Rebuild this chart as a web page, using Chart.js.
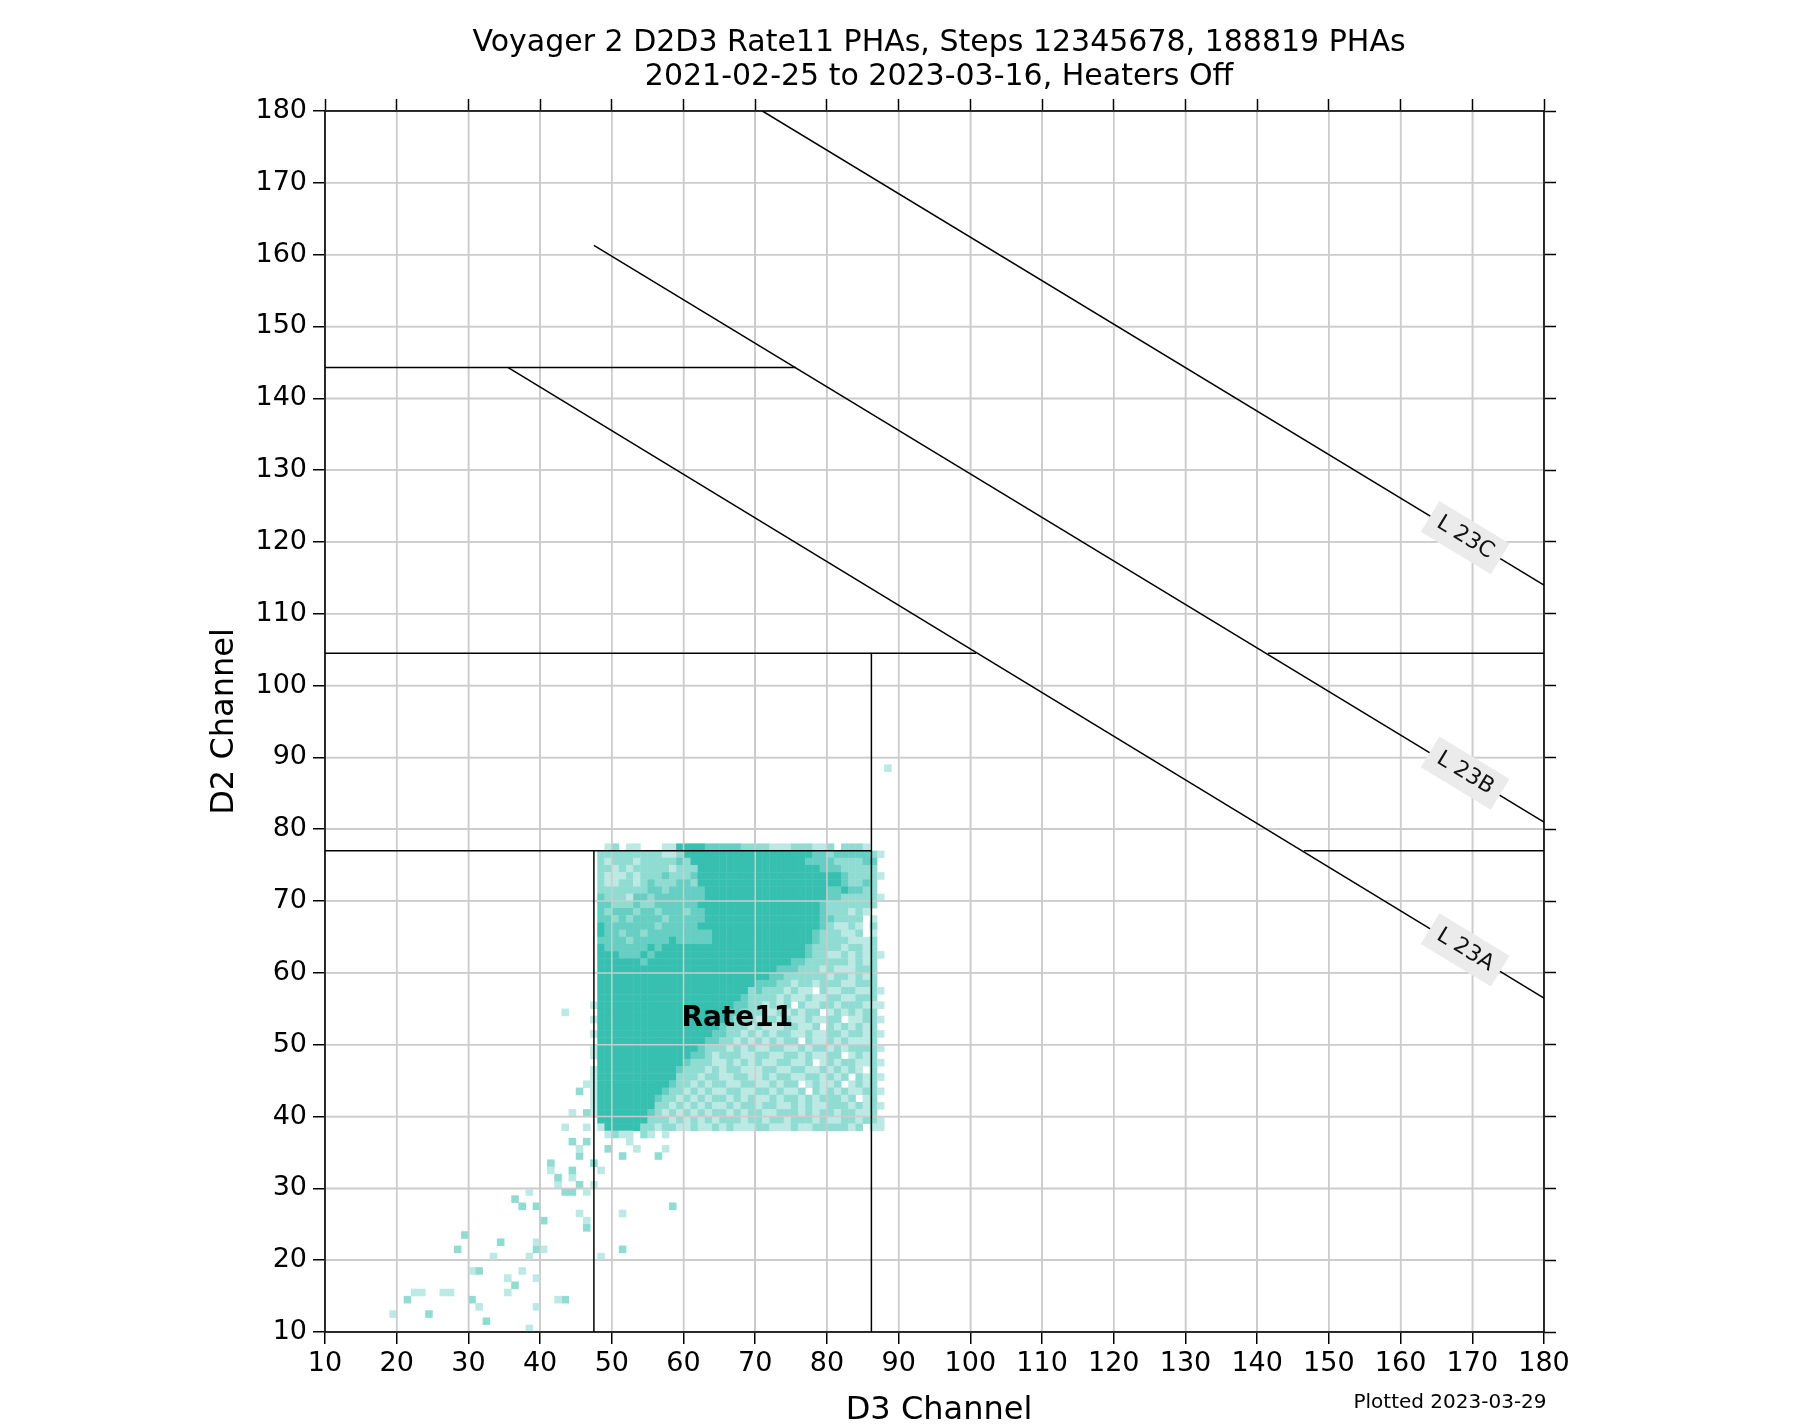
<!DOCTYPE html>
<html><head><meta charset="utf-8">
<script src="https://cdn.jsdelivr.net/npm/chart.js@4/dist/chart.umd.min.js"></script>
<style>html,body{margin:0;padding:0;background:#fff}#wrap{width:1820px;height:1424px}</style>
</head><body><div id="wrap"><canvas id="c" width="1820" height="1424"></canvas></div>
<script>
const xTicks = [10,20,30,40,50,60,70,80,90,100,110,120,130,140,150,160,170,180];
const yTicks = [10,20,30,40,50,60,70,80,90,100,110,120,130,140,150,160,170,180];
// heatmap rows, d2 from 77 down to 38; chars = level for d3 = 47,48,...,87
const gridTopD2 = 77, gridFirstD3 = 47;
const gridRows = [
"0"+"01201100011"+"44443333322"+"22111222112"+"022210"+"0",
"0"+"22222222211"+"24444444444"+"44444444332"+"333332"+"1",
"0"+"21222122222"+"32444444444"+"44444443333"+"222233"+"0",
"0"+"22121222221"+"22244444444"+"44444444433"+"322222"+"0",
"0"+"21112122232"+"22344444444"+"44444444444"+"432222"+"1",
"0"+"21122123222"+"33244444444"+"44444444444"+"432232"+"0",
"0"+"22222223323"+"33334444444"+"44444444443"+"343322"+"0",
"0"+"32221332333"+"33334444444"+"44444444443"+"322222"+"1",
"0"+"33222322333"+"33344444444"+"44444444432"+"222222"+"0",
"0"+"32333233233"+"32334444444"+"44444444432"+"221210"+"0",
"0"+"33232333323"+"33334444444"+"44444444433"+"222201"+"0",
"0"+"43333333233"+"33344444444"+"44444444432"+"112102"+"0",
"0"+"43323323333"+"33333444444"+"44444444322"+"211201"+"0",
"0"+"33332333334"+"33333444444"+"44444444322"+"221112"+"0",
"0"+"43333334344"+"44444444444"+"44444443222"+"212212"+"0",
"0"+"44433343444"+"44444444444"+"44444443221"+"121212"+"1",
"0"+"44444434444"+"44444444444"+"44444332222"+"221212"+"0",
"0"+"44444444444"+"44444444444"+"44433322212"+"111222"+"0",
"0"+"44444444444"+"44444444444"+"44332222221"+"221212"+"0",
"0"+"44444444444"+"44444444444"+"33322122122"+"211222"+"0",
"0"+"44444444444"+"44444444442"+"32221211021"+"122112"+"1",
"0"+"44444444444"+"44444444432"+"22212112112"+"211222"+"0",
"1"+"44444444444"+"44444444332"+"21212021122"+"122211"+"1",
"0"+"44444444444"+"44444443322"+"21121212201"+"212122"+"0",
"1"+"44444444444"+"44444443222"+"12212112112"+"201122"+"1",
"0"+"44444444444"+"44444432221"+"21112211202"+"121212"+"0",
"1"+"44444444444"+"44444332212"+"12122112112"+"212212"+"1",
"0"+"44444444444"+"44443322121"+"21212202112"+"121112"+"0",
"1"+"44444444444"+"44432221212"+"11221121221"+"212222"+"1",
"1"+"44444444444"+"44332122211"+"22112212112"+"201212"+"0",
"0"+"44444444444"+"43222112121"+"21122112012"+"122112"+"1",
"1"+"44444444444"+"32221212211"+"12211221121"+"212102"+"0",
"1"+"44444444444"+"22212211221"+"12122112212"+"120212"+"1",
"1"+"44444444443"+"22121221122"+"11212201211"+"201212"+"0",
"1"+"44444444432"+"21212112211"+"22121120212"+"121122"+"1",
"1"+"44444444322"+"12121221212"+"11212212122"+"212012"+"0",
"1"+"44444444221"+"21212112122"+"12211212112"+"221212"+"1",
"1"+"44444443212"+"12121221212"+"21122212122"+"122112"+"0",
"0"+"44444442221"+"21212122212"+"21221222121"+"122122"+"1",
"0"+"14444422122"+"11211212111"+"22111211222"+"221201"+"1"
];
// sparse cells outside the main block: [d3, d2, level]
const sparseCells = [
[88,88,1],[43,54,1],[46,44,1],[45,43,2],[44,40,1],[46,40,2],[43,38,1],
[19,12,1],[21,14,2],[22,15,1],[23,15,1],[24,12,2],[26,15,1],[27,15,1],[29,23,2],[28,21,2],
[30,18,1],[31,18,2],[30,14,2],[31,13,1],[32,11,2],[33,20,1],[34,22,2],[35,17,1],[35,15,1],
[36,16,2],[37,18,1],[38,20,1],[38,10,1],[39,21,2],[39,22,1],[39,17,1],[39,13,1],[40,21,1],
[40,25,2],[39,27,2],[38,29,1],[36,28,2],[37,27,2],[41,33,2],[41,32,1],[42,30,1],[42,31,2],
[43,29,2],[44,29,2],[43,14,2],[42,14,1],[44,31,1],[44,32,2],[45,34,2],[45,35,1],[46,36,2],
[46,38,1],[44,36,2],[45,26,1],[46,25,1],[46,24,2],[48,20,1],[51,21,2],[51,26,1],[51,34,2],
[58,27,2],[56,34,2],[57,35,1],[52,36,1],[53,35,1],[47,33,2],[47,30,1],[45,30,2],[46,29,1],
[48,32,1],[49,35,2],[49,37,1],[50,37,2],[51,37,1],[52,37,1],[54,37,2],[55,37,1],[57,37,1]
];
const levelColors = ['rgba(0,0,0,0)','#bde9e4','#90dcd3','#66cec2','#37bfb0'];
// boundary line segments [[x1,y1],[x2,y2]]
const segments = [
[[10,144.3],[75.7,144.3]],
[[10,104.5],[100.8,104.5]],
[[141.5,104.5],[180,104.5]],
[[10,77],[86.2,77]],
[[146.5,77],[180,77]],
[[47.5,10],[47.5,77]],
[[86.2,10],[86.2,104.5]],
[[35.5,144.3],[180,56.5]],
[[47.5,161.3],[180,81]],
[[71,180],[180,114]]
];
const lineLabels = [["L 23C",169,120.6],["L 23B",169,87.8],["L 23A",169,63.2]];
const regionLabel = ["Rate11",67.5,53.6];
const titleLines = ["Voyager 2 D2D3 Rate11 PHAs, Steps 12345678, 188819 PHAs","2021-02-25 to 2023-03-16, Heaters Off"];

const cells = [];
gridRows.forEach((row,i)=>{ for(let j=0;j<row.length;j++){ const l=+row[j]; if(l>0) cells.push({x:gridFirstD3+j+0.5,y:gridTopD2-i+0.5,l}); }});
sparseCells.forEach(c=>cells.push({x:c[0]+0.5,y:c[1]+0.5,l:c[2]}));

const FONT='"DejaVu Sans", sans-serif';
const rad=ctx=>{const s=ctx.chart.scales.x; return Math.abs(s.getPixelForValue(1)-s.getPixelForValue(0))/(2*Math.SQRT1_2)+0.3;};
const datasets=[{
  type:'scatter', data:cells, order:10, pointStyle:'rect', borderWidth:0,
  backgroundColor:ctx=>levelColors[ctx.raw?ctx.raw.l:0],
  pointRadius:rad, pointHoverRadius:rad
}];
segments.forEach(s=>datasets.push({type:'line',data:s.map(p=>({x:p[0],y:p[1]})),borderColor:'#000',borderWidth:1.5,pointRadius:0,order:1,fill:false}));

function tickFix(arr){return function(sc){sc.ticks=arr.map(v=>({value:v}));};}
const gridCol='#cccccc';
const plug={
  id:'extras',
  afterDatasetDraw(chart,args){
    if(args.index!==0)return;
    const {ctx,chartArea:a,scales:{x,y}}=chart;
    ctx.save();ctx.strokeStyle=gridCol;ctx.lineWidth=1.5;
    xTicks.forEach(v=>{const p=x.getPixelForValue(v);ctx.beginPath();ctx.moveTo(p,a.top);ctx.lineTo(p,a.bottom);ctx.stroke();});
    yTicks.forEach(v=>{const p=y.getPixelForValue(v);ctx.beginPath();ctx.moveTo(a.left,p);ctx.lineTo(a.right,p);ctx.stroke();});
    ctx.restore();
  },
  afterDraw(chart){
    const {ctx,chartArea:a,scales:{x,y}}=chart;
    ctx.save();
    ctx.strokeStyle='#000';ctx.lineWidth=1.5;ctx.strokeRect(a.left,a.top,a.right-a.left,a.bottom-a.top);
    const ang=Math.atan2(y.getPixelForValue(114)-y.getPixelForValue(180),x.getPixelForValue(180)-x.getPixelForValue(71));
    lineLabels.forEach(l=>{
      const px=x.getPixelForValue(l[1]),py=y.getPixelForValue(l[2]);
      ctx.save();ctx.translate(px,py);ctx.rotate(ang);
      ctx.fillStyle='#ebebeb';ctx.fillRect(-41,-18,82,36);
      ctx.fillStyle='#111';ctx.font='22px '+FONT;ctx.textAlign='center';ctx.textBaseline='middle';
      ctx.fillText(l[0],0,0);ctx.restore();
    });
    ctx.fillStyle='#000';ctx.font='bold 28px '+FONT;ctx.textAlign='center';ctx.textBaseline='middle';
    ctx.fillText(regionLabel[0],x.getPixelForValue(regionLabel[1]),y.getPixelForValue(regionLabel[2]));
    ctx.font='30px '+FONT;ctx.textBaseline='alphabetic';
    ctx.fillText(titleLines[0],939,51);
    ctx.fillText(titleLines[1],939,85);
    ctx.font='32px '+FONT;ctx.fillText('D3 Channel',939,1419);
    ctx.font='20px '+FONT;ctx.fillText('Plotted 2023-03-29',1450,1408);
    ctx.save();ctx.translate(225,(a.top+a.bottom)/2);ctx.rotate(-Math.PI/2);ctx.font='32px '+FONT;ctx.textBaseline='middle';ctx.fillText('D2 Channel',0,0);ctx.restore();
    ctx.restore();
  }
};
const tickFont={family:FONT,size:27};
new Chart(document.getElementById('c'),{
  type:'scatter',
  data:{datasets},
  options:{
    responsive:false,animation:false,events:[],
    layout:{padding:0},
    plugins:{legend:{display:false},tooltip:{enabled:false}},
    scales:{
      x:{type:'linear',position:'bottom',min:10,max:180,afterBuildTicks:tickFix(xTicks),
        afterFit(s){s.height=92;},
        grid:{color:gridCol,lineWidth:1.5,tickColor:'#000',tickLength:12,tickWidth:1.5},
        border:{color:'#000',width:1.5},
        ticks:{color:'#000',font:tickFont,padding:4,maxRotation:0,autoSkip:false}},
      x2:{type:'linear',position:'top',min:10,max:180,afterBuildTicks:tickFix(xTicks),
        afterFit(s){s.height=111;},
        grid:{drawOnChartArea:false,tickColor:'#000',tickLength:12,tickWidth:1.5},
        border:{color:'#000',width:1.5},
        ticks:{callback:()=>'',font:tickFont}},
      y:{type:'linear',position:'left',min:10,max:180,afterBuildTicks:tickFix(yTicks),
        afterFit(s){s.width=325;},
        grid:{color:gridCol,lineWidth:1.5,tickColor:'#000',tickLength:12,tickWidth:1.5},
        border:{color:'#000',width:1.5},
        ticks:{color:'#000',font:tickFont,padding:6,autoSkip:false}},
      y2:{type:'linear',position:'right',min:10,max:180,afterBuildTicks:tickFix(yTicks),
        afterFit(s){s.width=276;},
        grid:{drawOnChartArea:false,tickColor:'#000',tickLength:12,tickWidth:1.5},
        border:{color:'#000',width:1.5},
        ticks:{callback:()=>'',font:tickFont}}
    }
  },
  plugins:[plug]
});
</script></body></html>
